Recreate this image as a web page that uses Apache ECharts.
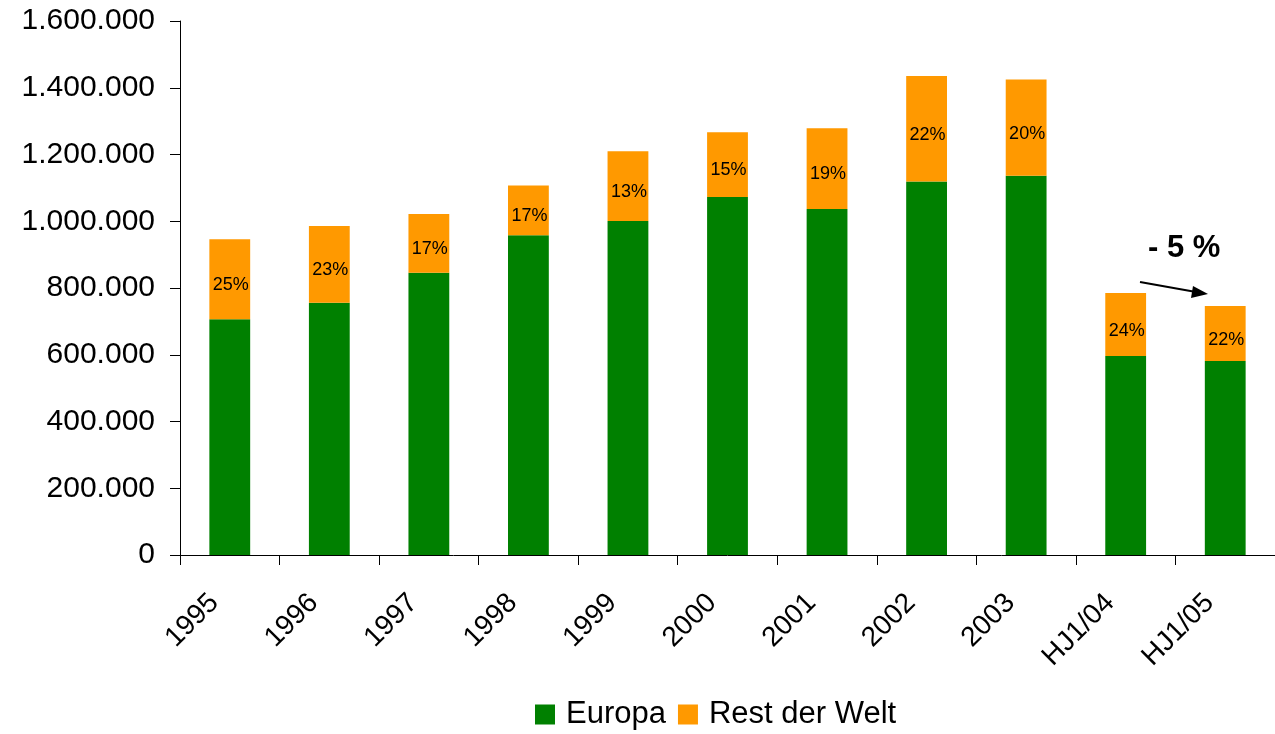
<!DOCTYPE html>
<html>
<head>
<meta charset="utf-8">
<script src="https://cdn.jsdelivr.net/npm/echarts@6/dist/echarts.min.js"></script>
<style>
  html, body { margin: 0; padding: 0; background: #fff; }
  #main { width: 1275px; height: 734px; }
</style>
</head>
<body>
<div id="main"></div>
<script>
// Kategorien und Werte
var categories = ['1995', '1996', '1997', '1998', '1999', '2000', '2001', '2002', '2003', 'HJ1/04', 'HJ1/05'];
var europa = [706000, 756000, 846000, 958000, 1001000, 1073000, 1037000, 1119000, 1136000, 596000, 581000];
var restDerWelt = [240000, 230000, 176000, 149000, 209000, 194000, 242000, 316000, 289000, 189000, 165000];
var restLabels = ['25%', '23%', '17%', '17%', '13%', '15%', '19%', '22%', '20%', '24%', '22%'];
var yTicks = [0, 200000, 400000, 600000, 800000, 1000000, 1200000, 1400000, 1600000];

var font = 'Liberation Sans, Arial, sans-serif';

function fmt(v) {
    return String(v).replace(/\B(?=(\d{3})+(?!\d))/g, '.');
}

var chart = echarts.init(document.getElementById('main'));

var option = {
    animation: false,
    textStyle: { fontFamily: font, color: '#000' },
    grid: { left: 180, top: 21, width: 1101, bottom: 179, containLabel: false },
    legend: {
        left: 535,
        top: 699,
        padding: 0,
        icon: 'rect',
        itemWidth: 20,
        itemHeight: 20,
        itemGap: 12,
        textStyle: { fontSize: 31, color: '#000', fontFamily: font, padding: [0, 0, 0, 6] },
        data: ['Europa', 'Rest der Welt']
    },
    xAxis: {
        type: 'category',
        data: categories,
        axisLine: { lineStyle: { color: '#000', width: 1 } },
        axisTick: { show: true, length: 10, alignWithLabel: false, lineStyle: { color: '#000' } },
        axisLabel: { rotate: 45, fontSize: 28, color: '#000', margin: 28, padding: [0, 22, 0, 0], fontFamily: font }
    },
    yAxis: {
        type: 'value',
        min: yTicks[0],
        max: yTicks[yTicks.length - 1],
        interval: yTicks[1] - yTicks[0],
        splitLine: { show: false },
        axisLine: { show: true, lineStyle: { color: '#000', width: 1 } },
        axisTick: { show: true, length: 10, lineStyle: { color: '#000' } },
        axisLabel: { fontSize: 30, color: '#000', margin: 25, fontFamily: font, formatter: fmt }
    },
    series: [
        {
            name: 'Europa',
            type: 'bar',
            stack: 'gesamt',
            barWidth: '41%',
            itemStyle: { color: '#008000' },
            data: europa
        },
        {
            name: 'Rest der Welt',
            type: 'bar',
            stack: 'gesamt',
            barWidth: '41%',
            itemStyle: { color: '#FF9900' },
            label: {
                show: true,
                position: 'inside',
                offset: [1, 6],
                fontSize: 18,
                color: '#000',
                fontFamily: font,
                formatter: function (p) { return restLabels[p.dataIndex]; }
            },
            data: restDerWelt
        }
    ],
    graphic: [
        {
            type: 'text',
            left: 1148,
            top: 233,
            style: { text: '- 5 %', font: 'bold 31px ' + font, fill: '#000' }
        },
        {
            type: 'line',
            shape: { x1: 1140, y1: 282, x2: 1196, y2: 292 },
            style: { stroke: '#000', lineWidth: 2 }
        },
        {
            type: 'polygon',
            shape: { points: [[1208, 294], [1191, 298], [1193, 286]] },
            style: { fill: '#000' }
        }
    ]
};

chart.setOption(option);
</script>
</body>
</html>
